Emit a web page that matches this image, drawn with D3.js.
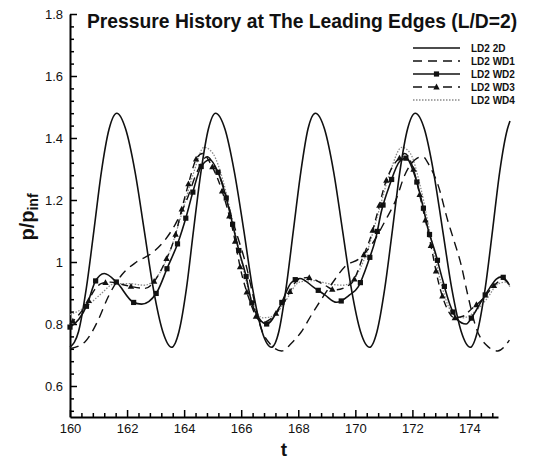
<!DOCTYPE html>
<html><head><meta charset="utf-8">
<script src="https://cdn.jsdelivr.net/npm/d3@7"></script>
<style>body{margin:0;background:#fff}</style>
</head><body>
<svg id="c" width="536" height="461"></svg>
<script>
const xTicks=[160,162,164,166,168,170,172,174];
const yTicks=[0.6,0.8,1,1.2,1.4,1.6,1.8];
const yTickLabels=["0.6","0.8","1","1.2","1.4","1.6","1.8"];
const seriesNames=["LD2 2D","LD2 WD1","LD2 WD2","LD2 WD3","LD2 WD4"];

const t2D=[160.0,160.30,160.57,160.84,161.10,161.37,161.64,161.95,162.28,162.60,162.92,163.25,163.56,163.82,164.08,164.33,164.59,164.85,165.10,165.43,165.76,166.09,166.40,166.73,167.06,167.32,167.57,167.83,168.09,168.34,168.60,168.92,169.24,169.55,169.86,170.18,170.50,170.76,171.03,171.30,171.56,171.83,172.10,172.42,172.74,173.06,173.38,173.71,174.03,174.28,174.55,174.81,175.06,175.33,175.42];
const p2D=[0.725,0.776,0.914,1.103,1.291,1.429,1.48,1.429,1.291,1.103,0.914,0.776,0.725,0.776,0.914,1.103,1.291,1.429,1.48,1.429,1.291,1.103,0.914,0.776,0.725,0.776,0.914,1.103,1.291,1.429,1.48,1.429,1.291,1.103,0.914,0.776,0.725,0.776,0.914,1.103,1.291,1.429,1.48,1.429,1.291,1.103,0.914,0.776,0.725,0.776,0.914,1.103,1.291,1.429,1.455];

const tWD1=[160.0,160.53,160.99,161.34,161.81,162.33,162.86,163.33,163.68,164.09,164.45,164.81,165.06,165.36,165.71,165.88,166.17,166.41,166.70,167.05,167.42,167.76,168.11,168.46,168.87,169.27,169.63,170.15,170.60,171.03,171.44,171.73,172.09,172.36,172.60,172.90,173.25,173.42,173.71,173.94,174.24,174.59,174.99,175.40];
const pWD1=[0.72,0.743,0.813,0.888,0.958,1.0,1.028,1.071,1.12,1.2,1.29,1.34,1.31,1.248,1.13,1.08,0.99,0.894,0.786,0.732,0.713,0.738,0.775,0.829,0.888,0.942,0.985,1.012,1.06,1.13,1.205,1.28,1.33,1.34,1.31,1.248,1.13,1.08,0.99,0.894,0.786,0.732,0.713,0.748];

const tWD2=[160.0,160.31,160.59,160.88,161.20,161.64,162.22,162.51,163.03,163.42,163.79,164.06,164.31,164.59,164.90,165.19,165.48,165.69,165.91,166.16,166.36,166.65,166.89,167.35,167.76,168.06,168.52,168.93,169.34,169.80,170.10,170.45,170.73,170.91,171.21,171.55,171.78,172.08,172.36,172.54,172.82,173.05,173.31,173.57,173.88,174.14,174.42,174.70,174.94,175.13,175.40];
const pWD2=[0.79,0.815,0.86,0.936,0.963,0.934,0.87,0.864,0.90,0.983,1.064,1.142,1.227,1.307,1.33,1.289,1.205,1.125,1.04,0.958,0.872,0.815,0.80,0.856,0.934,0.947,0.92,0.894,0.87,0.894,0.92,1.0,1.082,1.162,1.25,1.324,1.335,1.28,1.184,1.109,1.025,0.945,0.864,0.815,0.80,0.83,0.874,0.915,0.945,0.952,0.926];

const tWD3=[160.0,160.31,160.59,160.86,161.11,161.42,161.98,162.63,163.01,163.33,163.68,163.91,164.14,164.44,164.65,164.91,165.19,165.48,165.69,166.02,166.30,166.55,166.75,167.01,167.47,167.99,168.34,168.93,169.27,169.86,170.27,170.56,170.80,171.03,171.32,171.55,171.73,172.08,172.31,172.55,172.70,172.90,173.19,173.47,173.77,174.09,174.42,174.94,175.16,175.42];
const pWD3=[0.80,0.83,0.865,0.91,0.931,0.935,0.924,0.915,0.945,1.0,1.082,1.168,1.248,1.335,1.35,1.32,1.265,1.184,1.109,0.96,0.875,0.82,0.805,0.815,0.865,0.942,0.95,0.925,0.91,0.931,1.017,1.087,1.168,1.248,1.31,1.335,1.35,1.286,1.194,1.096,1.03,0.94,0.855,0.82,0.825,0.85,0.877,0.931,0.945,0.925];

const tWD4=[160.0,160.55,161.06,161.57,162.09,162.60,163.11,163.52,163.93,164.34,164.70,165.01,165.37,165.68,166.04,166.39,166.75,167.11,167.52,168.04,168.55,169.06,169.57,169.98,170.40,170.81,171.22,171.63,171.93,172.29,172.65,173.01,173.37,173.78,174.19,174.60,175.01,175.27,175.42];
const pWD4=[0.83,0.855,0.895,0.93,0.93,0.925,0.96,1.04,1.16,1.29,1.37,1.35,1.26,1.14,0.99,0.87,0.82,0.825,0.87,0.935,0.94,0.93,0.925,0.95,1.03,1.16,1.29,1.37,1.35,1.24,1.08,0.93,0.84,0.82,0.84,0.88,0.93,0.935,0.92];

const F="'Liberation Sans', Arial, Helvetica, sans-serif";
const svg=d3.select("#c");
const x=d3.scaleLinear().domain([160,175]).range([70,498]);
const y=d3.scaleLinear().domain([0.5,1.8]).range([417,14]);

// minor ticks
const xMinor=d3.range(160,175.001,0.4).filter(v=>Math.abs((v-160)/2-Math.round((v-160)/2))>0.01);
const yMinor=d3.range(0.52,1.8,0.04).filter(v=>Math.abs(v*5-Math.round(v*5))>0.01);
svg.append("g").attr("transform",`translate(0,${y(0.5)})`)
  .call(d3.axisBottom(x).tickValues(xMinor).tickSize(-4).tickFormat(""))
  .call(g=>g.select(".domain").remove());
svg.append("g").attr("transform",`translate(${x(160)},0)`)
  .call(d3.axisLeft(y).tickValues(yMinor).tickSize(-4).tickFormat(""))
  .call(g=>g.select(".domain").remove());

svg.append("g").attr("transform",`translate(0,${y(0.5)})`)
  .call(d3.axisBottom(x).tickValues(xTicks).tickSizeInner(-7).tickSizeOuter(0).tickPadding(7).tickFormat(d3.format("d")));
svg.append("g").attr("transform",`translate(${x(160)},0)`)
  .call(d3.axisLeft(y).tickValues(yTicks).tickSizeInner(-7).tickSizeOuter(0).tickPadding(7).tickFormat((d,i)=>yTickLabels[i]));
svg.selectAll(".tick line").attr("stroke","#000").attr("stroke-width",1.5);
svg.selectAll(".domain").attr("stroke","#000").attr("stroke-width",2);
svg.selectAll(".tick text").attr("font-family",F).attr("font-size",13).attr("fill","#111");

// lines
const line=d3.line().x(d=>x(d[0])).y(d=>y(d[1])).curve(d3.curveMonotoneX);
const zip=(a,b)=>a.map((v,i)=>[v,b[i]]);
const plot=svg.append("g");
plot.append("path").attr("d",line(zip(tWD4,pWD4))).attr("fill","none").attr("stroke","#8a8a8a").attr("stroke-width",1.3).attr("stroke-dasharray","1.5,1.5");
plot.append("path").attr("d",line(zip(tWD1,pWD1))).attr("fill","none").attr("stroke","#111").attr("stroke-width",1.4).attr("stroke-dasharray","9,6");
const p3=plot.append("path").attr("d",line(zip(tWD3,pWD3))).attr("fill","none").attr("stroke","#111").attr("stroke-width",1.4).attr("stroke-dasharray","7,5");
const p2=plot.append("path").attr("d",line(zip(tWD2,pWD2))).attr("fill","none").attr("stroke","#111").attr("stroke-width",1.6);
plot.append("path").attr("d",line(zip(t2D,p2D))).attr("fill","none").attr("stroke","#111").attr("stroke-width",1.6);

function square(g,cx,cy){g.append("rect").attr("x",cx-2.6).attr("y",cy-2.6).attr("width",5.2).attr("height",5.2).attr("fill","#111");}
function tri(g,cx,cy){g.append("path").attr("d",`M${cx},${cy-3.4}L${cx+3.2},${cy+2.4}L${cx-3.2},${cy+2.4}Z`).attr("fill","#111");}
function markers(path,spacing,offset,fn){const n=path.node();const L=n.getTotalLength();for(let s=offset;s<=L;s+=spacing){const p=n.getPointAtLength(s);fn(plot,p.x,p.y);}}
markers(p3,26,4,tri);
markers(p2,27,0,square);

// legend
const lg=svg.append("g");
const rowsY=[48,61,74,87,100];
const styles=[
 {dash:null,col:"#111",w:1.6,m:null},
 {dash:"9,6",col:"#111",w:1.4,m:null},
 {dash:null,col:"#111",w:1.6,m:square},
 {dash:"9,6",col:"#111",w:1.4,m:tri},
 {dash:"1.5,1.5",col:"#8a8a8a",w:1.3,m:null}];
seriesNames.forEach((nm,i)=>{
  const s=styles[i];
  lg.append("line").attr("x1",413).attr("x2",460).attr("y1",rowsY[i]).attr("y2",rowsY[i])
    .attr("stroke",s.col).attr("stroke-width",s.w).attr("stroke-dasharray",s.dash);
  if(s.m) s.m(lg,436.5,rowsY[i]);
  lg.append("text").attr("x",471).attr("y",rowsY[i]+3.6).attr("font-family",F).attr("font-weight","bold")
    .attr("font-size",10).attr("fill","#111").text(nm);
});

// title & labels
svg.append("text").attr("x",87).attr("y",28).attr("font-family",F).attr("font-weight","bold").attr("font-size",19.3).attr("fill","#111")
  .text("Pressure History at The Leading Edges (L/D=2)");
svg.append("text").attr("x",x(167.5)).attr("y",456).attr("text-anchor","middle").attr("font-family",F).attr("font-weight","bold").attr("font-size",19).attr("fill","#111").text("t");
const yl=svg.append("text").attr("transform","translate(34,217) rotate(-90)").attr("text-anchor","middle")
  .attr("font-family",F).attr("font-weight","bold").attr("font-size",20).attr("fill","#111");
yl.append("tspan").text("p/p");
yl.append("tspan").attr("font-size",14).attr("dy",4).text("inf");
</script>
</body></html>
